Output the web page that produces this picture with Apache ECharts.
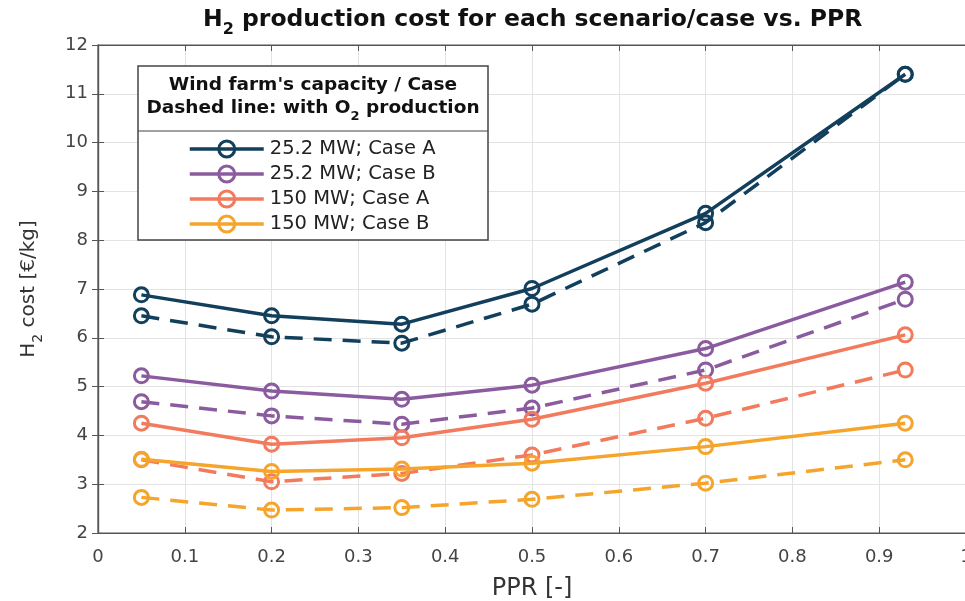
<!DOCTYPE html>
<html><head><meta charset="utf-8">
<script src="https://cdn.jsdelivr.net/npm/echarts@6/dist/echarts.min.js"></script>
<style>html,body{margin:0;padding:0;background:#fff;overflow:hidden}#c{width:965px;height:601px}</style>
</head><body><div id="c"></div>
<script>
const ppr = [0.05, 0.2, 0.35, 0.5, 0.7, 0.93];
const a25 = [6.88, 6.45, 6.28, 7.01, 8.55, 11.4];
const a25O2 = [6.45, 6.02, 5.89, 6.69, 8.36, 11.4];
const b25 = [5.22, 4.91, 4.74, 5.03, 5.78, 7.14];
const b25O2 = [4.69, 4.4, 4.23, 4.56, 5.34, 6.79];
const a150 = [4.25, 3.82, 3.95, 4.33, 5.07, 6.06];
const a150O2 = [3.5, 3.05, 3.22, 3.6, 4.35, 5.34];
const b150 = [3.51, 3.26, 3.31, 3.43, 3.77, 4.25];
const b150O2 = [2.73, 2.47, 2.52, 2.69, 3.02, 3.5];
const names = ['25.2 MW; Case A', '25.2 MW; Case B', '150 MW; Case A', '150 MW; Case B'];
const colors = ['#123f5c', '#8b5b9f', '#f27a5d', '#f5a42c'];
const solidSets = [a25, b25, a150, b150];
const dashSets = [a25O2, b25O2, a150O2, b150O2];

const F = 'DejaVu Sans, Verdana, sans-serif';
const series = [];
function mk(name, vals, color, dashed) {
  return {
    name: name, type: 'line', data: ppr.map((x, i) => [x, vals[i]]),
    symbol: 'circle', symbolSize: 14,
    lineStyle: { color: color, width: 3.5, type: dashed ? [18, 11] : 'solid' },
    itemStyle: { color: 'rgba(255,255,255,0)', borderColor: color, borderWidth: 3 },
    emphasis: { disabled: true }, animation: false, z: dashed ? 2 : 3
  };
}
for (let i = 3; i >= 0; i--) {
  series.push(mk(names[i] + ' O2', dashSets[i], colors[i], true));
  series.push(mk(names[i], solidSets[i], colors[i], false));
}

const chart = echarts.init(document.getElementById('c'), null, { renderer: 'canvas' });
const axisLine = { show: true, lineStyle: { color: '#555', width: 1.2 } };
const tick = { show: true, inside: true, length: 6, lineStyle: { color: '#555' } };
chart.setOption({
  animation: false,
  textStyle: { fontFamily: F },
  title: {
    text: '{a|H}{s|2}{a| production cost for each scenario/case vs. PPR}',
    left: 203, top: 8, padding: 0,
    textStyle: {
      rich: {
        a: { fontFamily: F, fontSize: 23.5, fontWeight: 'bold', color: '#111', padding: [0, 0, 6, 0], verticalAlign: 'bottom' },
        s: { fontFamily: F, fontSize: 16, fontWeight: 'bold', color: '#111', verticalAlign: 'bottom' }
      }
    }
  },
  grid: { left: 98, top: 45, width: 868, height: 488, outerBoundsMode: 'none', containLabel: false,
          show: true, borderColor: '#555', borderWidth: 1.2 },
  xAxis: [{
    type: 'value', min: 0, max: 1, interval: 0.1,
    name: 'PPR [-]', nameLocation: 'middle', nameGap: 44,
    nameTextStyle: { fontFamily: F, fontSize: 24, color: '#333' },
    axisLine: axisLine, axisTick: tick,
    axisLabel: { fontFamily: F, fontSize: 18, color: '#444', margin: 15 },
    splitLine: { show: true, lineStyle: { color: '#e3e3e3', width: 1 } }
  }, {
    type: 'value', min: 0, max: 1, interval: 0.1, position: 'top',
    axisLine: axisLine, axisTick: tick, axisLabel: { show: false }, splitLine: { show: false }
  }],
  yAxis: [{
    type: 'value', min: 2, max: 12, interval: 1,
    name: '{a|H}{s|2}{a| cost [€/kg]}', nameLocation: 'middle', nameGap: 53, nameRotate: 90,
    nameTextStyle: {
      rich: {
        a: { fontFamily: F, fontSize: 20, color: '#333', padding: [0, 0, 6, 0], verticalAlign: 'bottom' },
        s: { fontFamily: F, fontSize: 14, color: '#333', verticalAlign: 'bottom' }
      }
    },
    axisLine: axisLine, axisTick: tick,
    axisLabel: { fontFamily: F, fontSize: 18, color: '#444', margin: 10 },
    splitLine: { show: true, lineStyle: { color: '#e3e3e3', width: 1 } }
  }, {
    type: 'value', min: 2, max: 12, interval: 1, position: 'right',
    axisLine: axisLine, axisTick: tick, axisLabel: { show: false }, splitLine: { show: false }
  }],
  legend: {
    data: names, orient: 'vertical', left: 188, top: 139,
    itemWidth: 74, itemHeight: 20, itemGap: 5, padding: 0,
    lineStyle: { width: 3.5 },
    itemStyle: { borderWidth: 3 },
    textStyle: { fontFamily: F, fontSize: 19.5, color: '#222', padding: [0, 0, 0, 1], lineHeight: 20 },
    selectedMode: false, z: 6
  },
  graphic: [
    { type: 'rect', shape: { x: 138, y: 66, width: 350, height: 174 }, style: { fill: '#fff', stroke: '#444', lineWidth: 1.5 }, z: 5 },
    { type: 'line', shape: { x1: 138, y1: 131, x2: 488, y2: 131 }, style: { stroke: '#444', lineWidth: 1.2 }, z: 5 },
    { type: 'text', x: 313, y: 85, z: 6, style: { text: "Wind farm's capacity / Case", font: 'bold 18.5px ' + F, fill: '#111', align: 'center', verticalAlign: 'middle' } },
    { type: 'text', x: 313, y: 111, z: 6, style: {
        text: '{a|Dashed line: with O}{s|2}{a| production}', align: 'center', verticalAlign: 'middle',
        rich: {
          a: { font: 'bold 18.5px ' + F, fill: '#111', padding: [0, 0, 5, 0], verticalAlign: 'bottom' },
          s: { font: 'bold 13px ' + F, fill: '#111', verticalAlign: 'bottom' }
        } } }
  ],
  series: series
});
</script></body></html>
